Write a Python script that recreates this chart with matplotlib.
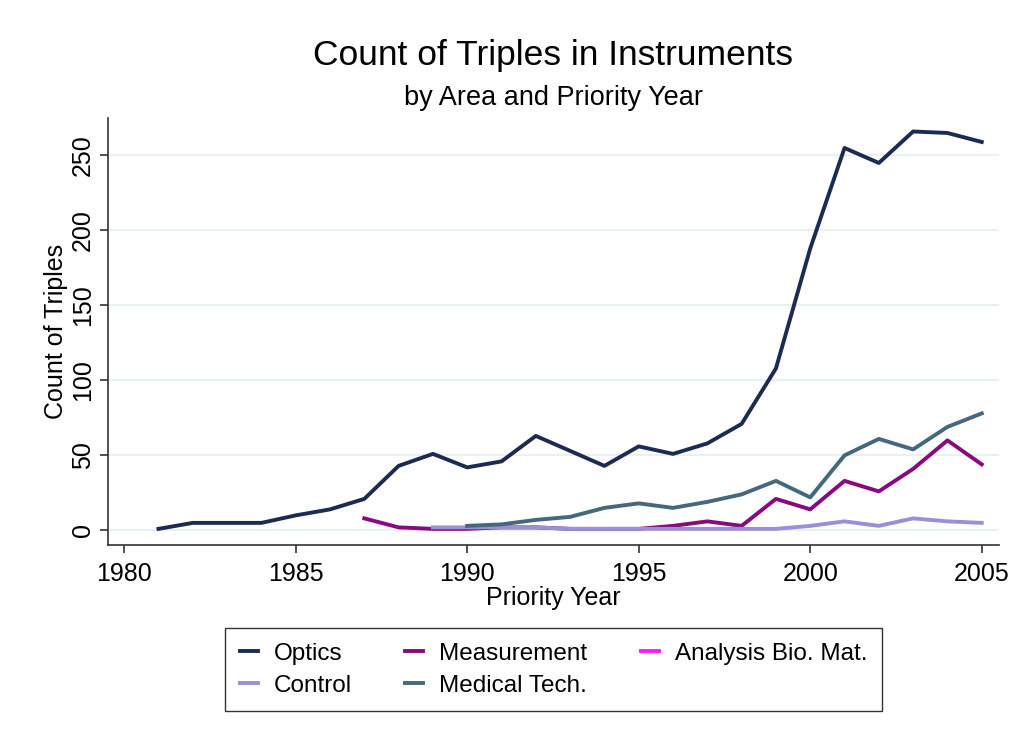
import matplotlib.pyplot as plt

plt.rcParams['font.family'] = ['Liberation Sans', 'DejaVu Sans']

years_optics = list(range(1981, 2006))
optics = [1, 5, 5, 5, 10, 14, 21, 43, 51, 42, 46, 63, 53, 43, 56, 51, 58, 71,
          108, 188, 255, 245, 266, 265, 259]

years_meas = list(range(1987, 2006))
measurement = [8, 2, 1, 1, 2, 2, 1, 1, 1, 3, 6, 3, 21, 14, 33, 26, 41, 60, 44]

years_control = list(range(1989, 2006))
control = [2, 2, 2, 2, 1, 1, 1, 1, 1, 1, 1, 3, 6, 3, 8, 6, 5]

years_med = list(range(1990, 2006))
medical = [3, 4, 7, 9, 15, 18, 15, 19, 24, 33, 22, 50, 61, 54, 69, 78]

years_bio = []
analysis_bio = []

fig = plt.figure(figsize=(10.1, 7.42), dpi=100)
ax = fig.add_axes([0.107, 0.265, 0.882, 0.576])

ax.plot(years_optics, optics, color='#1c2b52', lw=2.8, label='Optics')
ax.plot(years_meas, measurement, color='#870a80', lw=2.8, label='Measurement')
ax.plot(years_bio, analysis_bio, color='#ff1aff', lw=2.8, label='Analysis Bio. Mat.')
ax.plot(years_control, control, color='#9b8fd8', lw=2.8, label='Control')
ax.plot(years_med, medical, color='#44687e', lw=2.8, label='Medical Tech.')

ax.set_xlim(1979.53, 2005.5)
ax.set_ylim(-10, 275)
ax.set_xticks([1980, 1985, 1990, 1995, 2000, 2005])
ax.set_yticks([0, 50, 100, 150, 200, 250])
ax.tick_params(labelsize=18, length=6, width=1.2, color='#333333')
ax.tick_params(axis='x', pad=6)
for lbl in ax.get_yticklabels():
    lbl.set_rotation(90)
    lbl.set_va('center')
ax.grid(axis='y', color='#e8f1f2', lw=1.5)
ax.set_axisbelow(True)
for side in ['top', 'right']:
    ax.spines[side].set_visible(False)
for side in ['left', 'bottom']:
    ax.spines[side].set_color('#333333')
    ax.spines[side].set_linewidth(1.2)

ax.set_xlabel('Priority Year', fontsize=18, labelpad=0)
ax.set_ylabel('Count of Triples', fontsize=18, labelpad=2)

fig.text(0.548, 0.925, 'Count of Triples in Instruments', fontsize=25.5,
         ha='center', va='center')
fig.text(0.548, 0.868, 'by Area and Priority Year', fontsize=19.5,
         ha='center', va='center')

handles, labels = ax.get_legend_handles_labels()
# column-major fill: Optics/Control, Measurement/Medical, Analysis
order = [0, 3, 1, 4, 2]
leg = fig.legend([handles[i] for i in order], [labels[i] for i in order],
                 loc='center', bbox_to_anchor=(0.548, 0.0975), ncol=3,
                 fontsize=17.5, frameon=True, fancybox=False, edgecolor='black',
                 handlelength=0.75, columnspacing=2.2, borderpad=0.6,
                 labelspacing=0.4, handletextpad=0.65)
leg.get_frame().set_linewidth(1.0)

fig.savefig('out.png', dpi=100)
